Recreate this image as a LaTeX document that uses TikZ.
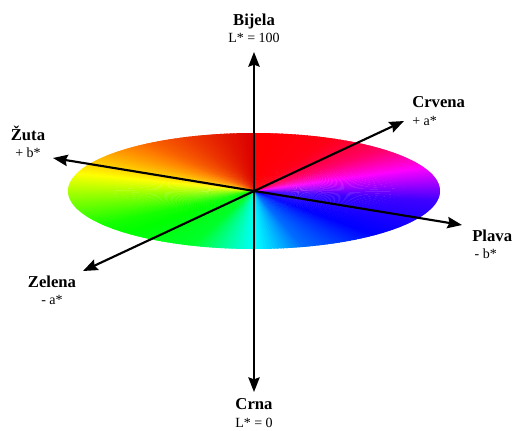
\documentclass[tikz,border=0pt]{standalone}
\usepackage{fontspec}
\setmainfont{Liberation Serif}
\usepackage{xcolor}
\usetikzlibrary{arrows.meta}

\tikzset{
  axisarrow/.style={line width=1.6pt, black,
    arrows={Stealth[length=11pt,width=8.5pt,inset=1.5pt]-Stealth[length=11pt,width=8.5pt,inset=1.5pt]}},
  axislabel/.style={align=center, inner sep=0pt, font=\fontsize{12.5}{15}\selectfont},
}

\begin{document}
\begin{tikzpicture}[x=0.75pt, y=0.75pt]
  % Page frame: 513 x 430 px, origin at the centre of the wheel
  \useasboundingbox (-254,-239) rectangle (259,191);

  \def\ra{186}  % wheel half-width
  \def\rb{58}   % wheel half-height

  \coordinate (O) at (0,0);

  % Hue wheel: angle ranges ta..tb carry hue ha..hb, red at the top
  \foreach \ta/\tb/\ha/\hb in {-90/-75/180/215, -75/-50/215/240, -50/-10/240/255,
      -10/20/255/295, 20/45/295/335, 45/65/335/355, 65/90/355/360,
      90/125/0/25, 125/160/25/58, 160/185/58/85, 185/215/85/115,
      215/250/115/130, 250/270/130/180} {
    \pgfmathtruncatemacro\tlast{\tb-1}
    \foreach \ang in {\ta,...,\tlast} {
      \pgfmathsetmacro\hue{mod(\ha+(\hb-\ha)*(\ang-\ta)/(\tb-\ta),360)}
      \pgfmathsetmacro\bri{(\ang>=90 && \ang<130) ? (0.86+0.14*(\ang-90)/40) : 1}
      \definecolor{huecol}{Hsb}{\hue,1,\bri}
      \fill[huecol] (O) -- ({\ra*cos(\ang)},{\rb*sin(\ang)})
        arc[start angle=\ang, end angle=\ang+1.6, x radius=\ra, y radius=\rb] -- cycle;
    }
  }

  % Arrow tips of the three axes
  \coordinate (bijelaTip) at (0,139);
  \coordinate (crnaTip)   at (0,-201);
  \coordinate (crvenaTip) at (150,70);
  \coordinate (zelenaTip) at (-171,-80);
  \coordinate (zutaTip)   at (-201,33);
  \coordinate (plavaTip)  at (208,-34);

  % Axes
  \draw[axisarrow] (crnaTip) -- (bijelaTip);
  \draw[axisarrow] (zelenaTip) -- (crvenaTip);
  \draw[axisarrow] (plavaTip) -- (zutaTip);

  % Labels
  \node[axislabel] (bijela) at (0,163)
    {\textbf{Bijela}\\[-2pt]{\fontsize{10.5}{12}\selectfont L* = 100}};
  \node[axislabel, anchor=west, align=left] (crvena) at (158,80)
    {\textbf{Crvena}\\[-2pt]{\fontsize{10.5}{12}\selectfont + a*}};
  \node[axislabel] (zuta) at (-226,49)
    {\textbf{Žuta}\\[-2pt]{\fontsize{10.5}{12}\selectfont + b*}};
  \node[axislabel, anchor=west, align=left] (plava) at (218,-53)
    {\textbf{Plava}\\[-2pt]{\fontsize{10.5}{12}\selectfont \,- b*}};
  \node[axislabel] (zelena) at (-202,-99)
    {\textbf{Zelena}\\[-2pt]{\fontsize{10.5}{12}\selectfont - a*}};
  \node[axislabel] (crna) at (0,-222)
    {\textbf{Crna}\\[-2pt]{\fontsize{10.5}{12}\selectfont L* = 0}};
\end{tikzpicture}
\end{document}
